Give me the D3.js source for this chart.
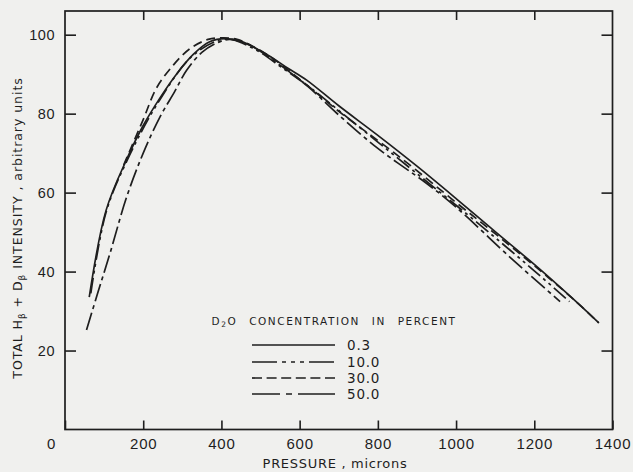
<!doctype html>
<html lang="en">
<head>
<meta charset="utf-8">
<title>Total H-beta + D-beta intensity vs pressure</title>
<script src="https://cdn.jsdelivr.net/npm/d3@7"></script>
<style>
  body { margin: 0; background: #f0f0ee; }
  svg { display: block; font-family: "DejaVu Sans", sans-serif; }
</style>
</head>
<body>
<div id="chart"></div>
<script>
// ---- data ----
const xTicks = [0, 200, 400, 600, 800, 1000, 1200, 1400];
const yTicks = [20, 40, 60, 80, 100];
const concLabels = ["0.3", "10.0", "30.0", "50.0"];

// [pressure (microns), intensity]
const conc03 = [[62,33.5],[105,55.5],[158,68.5],[200,77],[243,84],[285,90],[328,95],[370,98.2],[410,99],
  [450,98.3],[516,95],[570,91.5],[618,88.5],[700,82],[800,74.5],[900,66.7],[1000,58.5],[1100,50.1],
  [1200,41.8],[1300,33],[1365,27]];
const conc10 = [[66,34.5],[105,55],[158,68],[243,83.6],[328,94.8],[410,98.9],[480,96.6],[560,91.3],
  [635,86],[700,80.8],[800,72.8],[900,64.8],[1000,56.8],[1100,48.6],[1200,40.2],[1290,32.4]];
const conc30 = [[150,67],[200,78.5],[234,86.5],[277,92.3],[320,96.5],[366,98.8],[400,99.2],[440,98.8],
  [516,95],[635,85.9],[700,80.6],[856,69],[1000,57.5],[1100,49.6],[1200,41.5],[1300,33],[1365,27]];
const conc50 = [[55,25.2],[85,35],[115,44.6],[158,59],[200,70],[243,79.2],[280,85.5],[311,91],[350,95.5],
  [390,98],[420,98.8],[470,97.5],[540,93],[620,87],[695,80.1],[800,71.2],[925,62.3],[1000,56.3],
  [1146,42.9],[1266,32.4]];

const series = [
  { label: concLabels[0], values: conc03, dash: null,             legendDash: null },
  { label: concLabels[1], values: conc10, dash: "16,4,3,4,3,4",    legendDash: "25,5,4,5,4,5,4,5,25" },
  { label: concLabels[2], values: conc30, dash: "9,5",             legendDash: "10,4.6" },
  { label: concLabels[3], values: conc50, dash: "18,4,4,4",        legendDash: "28,6,6,6,37" }
];

const W = 633, H = 472;
const ink = "#1e1e1e";

const svg = d3.select("#chart").append("svg").attr("width", W).attr("height", H);
svg.append("rect").attr("width", W).attr("height", H).attr("fill", "#f0f0ee");

const x = d3.scaleLinear().domain([0, 1400]).range([65, 612.5]);
const y = d3.scaleLinear().domain([0, 106]).range([429.5, 11]);

// frame
svg.append("rect")
  .attr("x", x(0)).attr("y", y(106))
  .attr("width", x(1400) - x(0)).attr("height", y(0) - y(106))
  .attr("fill", "none").attr("stroke", ink).attr("stroke-width", 1.7);

function styleAxis(g) {
  g.select(".domain").remove();
  g.selectAll(".tick line").attr("stroke", ink).attr("stroke-width", 1.6);
  g.selectAll(".tick text").attr("fill", ink);
}

// bottom
const gx = svg.append("g").attr("transform", `translate(0,${y(0)})`)
  .call(d3.axisBottom(x).tickValues(xTicks).tickSize(-9).tickPadding(9).tickFormat(d3.format("d")))
  .call(styleAxis);
gx.selectAll(".tick text").attr("font-size", 15).attr("letter-spacing", 0.8);
gx.selectAll(".tick").filter(d => d === 0).select("text").attr("x", -14);

// top
svg.append("g").attr("transform", `translate(0,${y(106)})`)
  .call(d3.axisTop(x).tickValues(xTicks.slice(1, -1)).tickSize(-9).tickFormat(""))
  .call(styleAxis);

// left
const gy = svg.append("g").attr("transform", `translate(${x(0)},0)`)
  .call(d3.axisLeft(y).tickValues(yTicks).tickSize(-11).tickPadding(10))
  .call(styleAxis);
gy.selectAll(".tick text").attr("font-size", 14.5).attr("letter-spacing", 0.5);

// right
svg.append("g").attr("transform", `translate(${x(1400)},0)`)
  .call(d3.axisRight(y).tickValues(yTicks).tickSize(-11).tickFormat(""))
  .call(styleAxis);

// curves
const line = d3.line().x(d => x(d[0])).y(d => y(d[1])).curve(d3.curveCatmullRom.alpha(0.5));
svg.append("g").selectAll("path").data(series).join("path")
  .attr("d", d => line(d.values))
  .attr("fill", "none").attr("stroke", ink).attr("stroke-width", 1.7)
  .attr("stroke-dasharray", d => d.dash);

// axis titles
svg.append("text").attr("x", 335).attr("y", 468).attr("text-anchor", "middle")
  .attr("font-size", 13).attr("fill", ink).attr("letter-spacing", 0.7)
  .text("PRESSURE , microns");

const yt = svg.append("text").attr("transform", "translate(22,228) rotate(-90)")
  .attr("text-anchor", "middle").attr("font-size", 12.5).attr("fill", ink).attr("letter-spacing", 0.95);
yt.append("tspan").text("TOTAL  H");
yt.append("tspan").attr("font-size", 9).attr("dy", 3).text("β");
yt.append("tspan").attr("dy", -3).text(" + D");
yt.append("tspan").attr("font-size", 9).attr("dy", 3).text("β");
yt.append("tspan").attr("dy", -3).text("  INTENSITY , arbitrary units");

// legend
const lg = svg.append("g");
const lt = lg.append("text").attr("x", 334).attr("y", 325).attr("text-anchor", "middle")
  .attr("font-size", 10.5).attr("fill", ink).attr("letter-spacing", 1.55).attr("word-spacing", 7);
lt.append("tspan").text("D");
lt.append("tspan").attr("font-size", 7.5).attr("dy", 2).text("2");
lt.append("tspan").attr("dy", -2).text("O  CONCENTRATION  IN  PERCENT");

const rowY = [345, 362, 378, 394];
const rows = lg.selectAll("g.row").data(series).join("g").attr("class", "row")
  .attr("transform", (d, i) => `translate(0,${rowY[i]})`);
rows.append("line").attr("x1", 252).attr("x2", 335).attr("y1", 0).attr("y2", 0)
  .attr("stroke", ink).attr("stroke-width", 1.7).attr("stroke-dasharray", d => d.legendDash);
rows.append("text").attr("x", 347).attr("y", 5).attr("font-size", 13.5).attr("fill", ink)
  .attr("letter-spacing", 0.8).text(d => d.label);
</script>
</body>
</html>
